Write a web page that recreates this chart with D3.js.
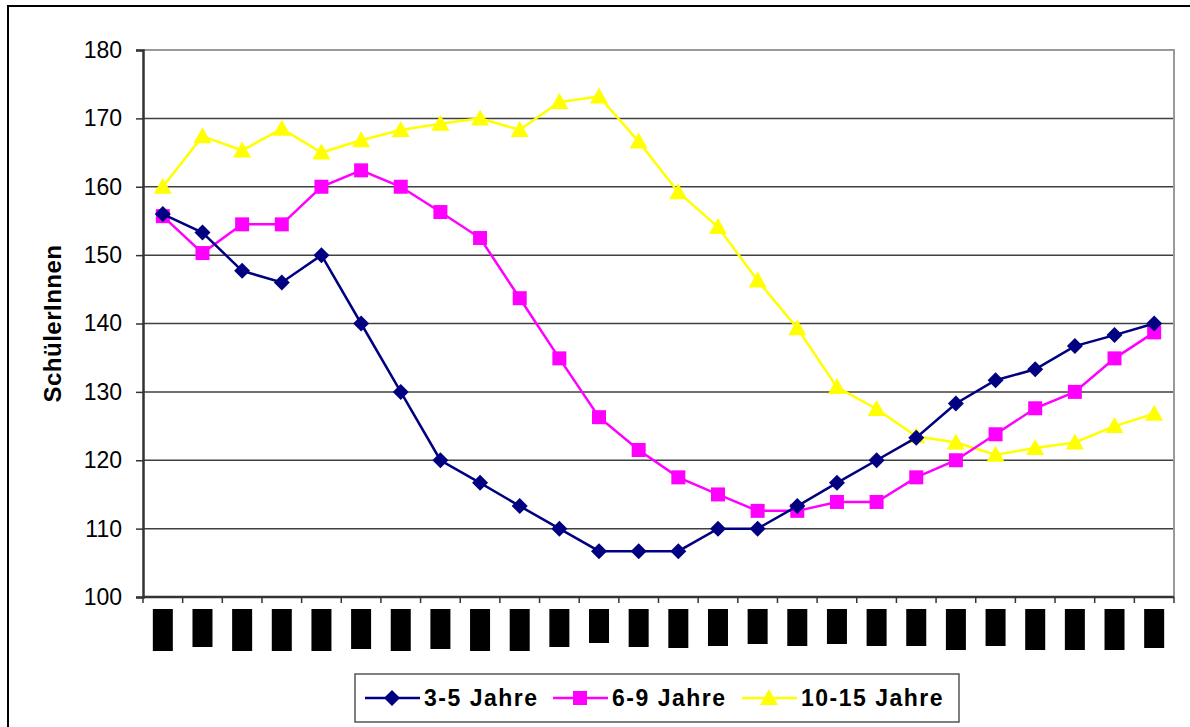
<!DOCTYPE html>
<html>
<head>
<meta charset="utf-8">
<script src="https://cdnjs.cloudflare.com/ajax/libs/d3/7.8.5/d3.min.js"></script>
<style>
  body { margin: 0; background: #fff; }
  svg { display: block; font-family: "Liberation Sans", Arial, sans-serif; }
</style>
</head>
<body>
<div id="chart"></div>
<script>
// chart values (x labels are blacked out in the original)
var seriesNames = ["3-5 Jahre", "6-9 Jahre", "10-15 Jahre"];
var seriesColors = ["#000080", "#ff00ff", "#ffff00"];
var seriesShapes = ["diamond", "square", "triangle"];

var jahre3bis5 = [156, 153.3, 147.7, 146, 150, 140, 130, 120, 116.7, 113.3, 110, 106.7, 106.7,
                  106.7, 110, 110, 113.3, 116.7, 120, 123.3, 128.3, 131.7, 133.3, 136.7, 138.3, 140];
var jahre6bis9 = [155.7, 150.3, 154.5, 154.5, 160, 162.4, 160, 156.3, 152.5, 143.7, 134.9, 126.3, 121.5,
                  117.5, 115, 112.6, 112.6, 113.9, 113.9, 117.5, 120, 123.8, 127.6, 130, 134.9, 138.7];
var jahre10bis15 = [160, 167.4, 165.3, 168.5, 165, 166.8, 168.3, 169.2, 170, 168.3, 172.4, 173.2, 166.6,
                    159.2, 154.1, 146.3, 139.3, 130.7, 127.5, 123.5, 122.6, 120.8, 121.8, 122.6, 125, 126.8];

// redacted category labels: only the length of each black box is known
var labelBoxLength = [42, 38, 42, 42, 42, 40, 42, 40, 42, 42, 38, 34, 38,
                      39, 37, 35, 37, 35, 37, 37, 41, 37, 41, 41, 41, 39];
var yTicks = [100, 110, 120, 130, 140, 150, 160, 170, 180];

var width = 1190, height = 727;
var plot = {left: 143, top: 50, right: 1174, bottom: 597};

var svg = d3.select("#chart").append("svg")
    .attr("width", width)
    .attr("height", height);

// outer chart border
svg.append("rect")
    .attr("x", 8).attr("y", 6)
    .attr("width", width).attr("height", height)
    .attr("fill", "#fff")
    .attr("stroke", "#000")
    .attr("stroke-width", 2);

var cats = d3.range(jahre3bis5.length);
var x = d3.scaleBand().domain(cats).range([plot.left, plot.right]);
var y = d3.scaleLinear().domain([100, 180]).range([plot.bottom, plot.top]);

// horizontal gridlines
svg.append("g").selectAll("line")
    .data(yTicks.filter(function(d) { return d > 100 && d < 180; }))
    .join("line")
    .attr("x1", plot.left).attr("x2", plot.right)
    .attr("y1", function(d) { return y(d); })
    .attr("y2", function(d) { return y(d); })
    .attr("stroke", "#404040")
    .attr("stroke-width", 1.5);

// plot frame: grey top and right edge
svg.append("path")
    .attr("d", "M" + plot.left + "," + y(180) + "H" + plot.right + "V" + plot.bottom)
    .attr("fill", "none")
    .attr("stroke", "#999")
    .attr("stroke-width", 2);

// y axis
var yAxis = d3.axisLeft(y).tickValues(yTicks).tickSize(7).tickPadding(14);
var gy = svg.append("g")
    .attr("transform", "translate(" + plot.left + ",0)")
    .call(yAxis);
gy.select(".domain").attr("stroke", "#333").attr("stroke-width", 2.5);
gy.selectAll(".tick line").attr("stroke", "#333").attr("stroke-width", 1.5);
gy.selectAll("text")
    .attr("font-size", 23)
    .attr("font-family", "Liberation Sans, Arial, sans-serif")
    .attr("fill", "#000");

// x axis with ticks between categories
var gx = svg.append("g")
    .attr("transform", "translate(0," + plot.bottom + ")");
gx.append("line")
    .attr("x1", plot.left).attr("x2", plot.right)
    .attr("stroke", "#333").attr("stroke-width", 2.5);
gx.selectAll(".xt")
    .data(cats.concat([cats.length]))
    .join("line")
    .attr("class", "xt")
    .attr("x1", function(d) { return plot.left + d * x.step(); })
    .attr("x2", function(d) { return plot.left + d * x.step(); })
    .attr("y1", 0).attr("y2", 6)
    .attr("stroke", "#333").attr("stroke-width", 1.5);

// blacked-out category labels
gx.selectAll(".lbl")
    .data(cats)
    .join("rect")
    .attr("class", "lbl")
    .attr("x", function(d) { return x(d) + x.bandwidth() / 2 - 10; })
    .attr("y", 12)
    .attr("width", 20)
    .attr("height", function(d) { return labelBoxLength[d]; })
    .attr("fill", "#000");

// y label
svg.append("text")
    .attr("transform", "translate(61," + ((plot.top + plot.bottom) / 2) + ") rotate(-90)")
    .attr("text-anchor", "middle")
    .attr("font-size", 24)
    .attr("font-weight", "bold")
    .attr("letter-spacing", 0.5)
    .text("SchülerInnen");

function markerPath(shape) {
    if (shape == "diamond") return "M0,-8L8,0L0,8L-8,0Z";
    if (shape == "square") return "M-7,-7H7V7H-7Z";
    return "M0,-9L9,7H-9Z";
}

var allSeries = [jahre3bis5, jahre6bis9, jahre10bis15];
var line = d3.line()
    .x(function(d, i) { return x(i) + x.bandwidth() / 2; })
    .y(function(d) { return y(d); });

// draw back to front so the navy line stays on top
for (var s = allSeries.length - 1; s >= 0; s--) {
    var g = svg.append("g");
    g.append("path")
        .datum(allSeries[s])
        .attr("d", line)
        .attr("fill", "none")
        .attr("stroke", seriesColors[s])
        .attr("stroke-width", 2.5);
    g.selectAll("path.m")
        .data(allSeries[s])
        .join("path")
        .attr("class", "m")
        .attr("transform", function(d, i) { return "translate(" + (x(i) + x.bandwidth() / 2) + "," + y(d) + ")"; })
        .attr("d", markerPath(seriesShapes[s]))
        .attr("fill", seriesColors[s]);
}

// legend
var legend = svg.append("g");
legend.append("rect")
    .attr("x", 355).attr("y", 674)
    .attr("width", 604).attr("height", 48)
    .attr("fill", "#fff")
    .attr("stroke", "#555")
    .attr("stroke-width", 1.5);
var legendX = [365, 553, 742];
seriesNames.forEach(function(name, i) {
    var lg = legend.append("g").attr("transform", "translate(" + legendX[i] + ",698)");
    lg.append("line")
        .attr("x1", 0).attr("x2", 55)
        .attr("stroke", seriesColors[i]).attr("stroke-width", 2.5);
    lg.append("path")
        .attr("transform", "translate(27,0)")
        .attr("d", markerPath(seriesShapes[i]))
        .attr("fill", seriesColors[i]);
    lg.append("text")
        .attr("x", 59).attr("y", 8)
        .attr("font-size", 23)
        .attr("font-weight", "bold")
        .attr("letter-spacing", 1.5)
        .text(name);
});
</script>
</body>
</html>
